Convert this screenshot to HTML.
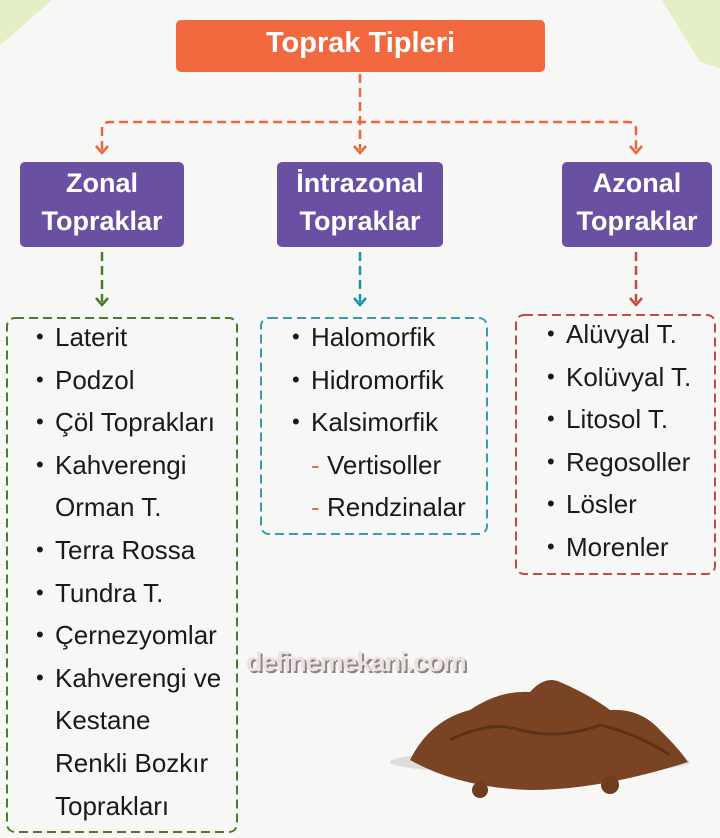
<!DOCTYPE html>
<html><head><meta charset="utf-8"><style>
body{margin:0;width:720px;height:838px;overflow:hidden;background:#f7f7f5;font-family:"Liberation Sans",sans-serif;position:relative}
.abs{position:absolute}
.top{left:176px;top:20px;width:369px;height:52px;background:#f2683f;border-radius:5px;color:#fff;font-weight:bold;font-size:29px;text-align:center;line-height:46px}
.pur{background:#6a50a2;border-radius:5px;color:#fff;font-weight:bold;font-size:27px;text-align:center;line-height:38px;top:162px;height:85px;padding-top:2px;box-sizing:border-box}
.list{font-size:26px;line-height:42.6px;color:#1a1a1a}
.list div{position:relative;padding-left:0;white-space:nowrap}
.b::before{content:"•";position:absolute;left:-19px;font-size:22px}
.d::before{content:"-";position:absolute;left:-16px;color:#e8704a}
</style></head><body>
<svg class="abs" style="left:0;top:0" width="720" height="838">
<polygon points="0,0 52,0 0,45" fill="#e4efc5"/>
<polygon points="662,0 720,0 720,68 700,62" fill="#e4efc5"/>
<g fill="none" stroke-width="2.5" stroke-dasharray="9,5">
<path d="M360 74 V150" stroke="#e8673f"/>
<path d="M102 150 V130 q0-8 8-8 H628 q8 0 8 8 V150" stroke="#e8673f"/>
<path d="M102 252 V302" stroke="#4e7a2e"/>
<path d="M360 252 V302" stroke="#1a93a8"/>
<path d="M636 252 V302" stroke="#c34a40"/>
<rect x="7" y="318" width="230" height="514" rx="8" stroke="#4e7a2e" stroke-width="2"/>
<rect x="261" y="318" width="226" height="216" rx="8" stroke="#3a9ab0" stroke-width="2"/>
<rect x="516" y="315" width="199" height="259" rx="8" stroke="#c34a40" stroke-width="2"/>
</g>
<g fill="none" stroke-width="2.5">
<path d="M96 146 l6 7 6-7" stroke="#e8673f"/>
<path d="M354 146 l6 7 6-7" stroke="#e8673f"/>
<path d="M630 146 l6 7 6-7" stroke="#e8673f"/>
<path d="M96 298 l6 7 6-7" stroke="#4e7a2e"/>
<path d="M354 298 l6 7 6-7" stroke="#1a93a8"/>
<path d="M630 298 l6 7 6-7" stroke="#c34a40"/>
</g>
<g>
<ellipse cx="540" cy="762" rx="150" ry="12" fill="#ddd"/>
<path d="M410 760 Q430 720 470 710 Q500 690 530 692 Q545 675 560 682 Q590 695 610 710 Q640 708 660 730 Q680 750 688 762 Q600 790 530 790 Q460 788 410 760Z" fill="#7a4424"/>
<path d="M450 740 Q490 720 520 730 Q560 740 600 725 Q640 735 670 755" stroke="#5c311a" stroke-width="3" fill="none"/>
<circle cx="480" cy="790" r="8" fill="#6e3d20"/><circle cx="610" cy="785" r="9" fill="#6e3d20"/>
</g>
</svg>
<div class="abs top">Toprak Tipleri</div>
<div class="abs pur" style="left:20px;width:164px">Zonal<br>Topraklar</div>
<div class="abs pur" style="left:277px;width:166px">İntrazonal<br>Topraklar</div>
<div class="abs pur" style="left:562px;width:150px">Azonal<br>Topraklar</div>
<div class="abs" style="left:246px;top:647px;font-weight:bold;font-size:27px;color:#efe0e2;text-shadow:2px 2px 0 #888;letter-spacing:-1px">definemekani.com</div>
<div class="abs list" style="left:55px;top:316px">
<div class="b">Laterit</div><div class="b">Podzol</div><div class="b">Çöl Toprakları</div><div class="b">Kahverengi</div><div>Orman T.</div><div class="b">Terra Rossa</div><div class="b">Tundra T.</div><div class="b">Çernezyomlar</div><div class="b">Kahverengi ve</div><div>Kestane</div><div>Renkli Bozkır</div><div>Toprakları</div>
</div>
<div class="abs list" style="left:311px;top:316px">
<div class="b">Halomorfik</div><div class="b">Hidromorfik</div><div class="b">Kalsimorfik</div><div class="d" style="left:16px">Vertisoller</div><div class="d" style="left:16px">Rendzinalar</div>
</div>
<div class="abs list" style="left:566px;top:313px">
<div class="b">Alüvyal T.</div><div class="b">Kolüvyal T.</div><div class="b">Litosol T.</div><div class="b">Regosoller</div><div class="b">Lösler</div><div class="b">Morenler</div>
</div>
</body></html>
